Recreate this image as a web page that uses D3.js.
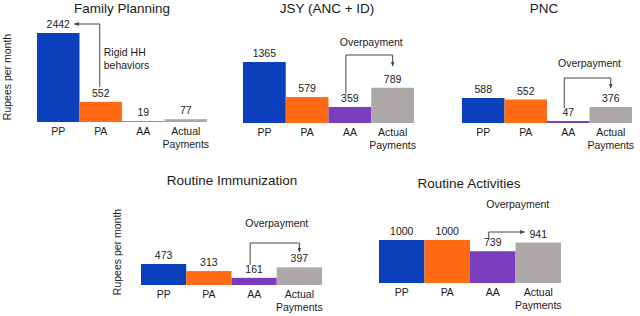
<!DOCTYPE html>
<html><head><meta charset="utf-8">
<script src="https://cdn.jsdelivr.net/npm/d3@7"></script>
<style>
html,body{margin:0;padding:0;background:#fff;}
svg{display:block;font-family:"Liberation Sans",Arial,Helvetica,sans-serif;}
</style></head>
<body><svg id="c" width="640" height="316"></svg>
<script>
// ---- data ----
const categories = ["PP", "PA", "AA", "Actual Payments"];
const familyPlanning = [2442, 552, 19, 77];
const jsy = [1365, 579, 359, 789];
const pnc = [588, 552, 47, 376];
const routineImmunization = [473, 313, 161, 397];
const routineActivities = [1000, 1000, 739, 941];
const titles = ["Family Planning", "JSY (ANC + ID)", "PNC", "Routine Immunization", "Routine Activities"];
const yAxisLabel = "Rupees per month";
const overpaymentText = "Overpayment";
const rigidText = ["Rigid HH", "behaviors"];

const colors = ["#0b3fbb", "#ff6a13", "#7a3dbd", "#aca8a8"];

// ---- layout ----
const panels = [
  {values: familyPlanning, title: titles[0], x0: 37, x1: 207, base: 122, h: 89, titleX: 122, titleY: 13, ylabX: 11, ylabY: 77, note: "rigid"},
  {values: jsy, title: titles[1], x0: 243, x1: 414, base: 123, h: 61, titleX: 327, titleY: 13, note: "over", lineY: 55, arrowEnd: 66, textY: 46},
  {values: pnc, title: titles[2], x0: 462, x1: 632, base: 123, h: 25, titleX: 544, titleY: 13, note: "over", lineY: 78, arrowEnd: 88, textY: 67},
  {values: routineImmunization, title: titles[3], x0: 141, x1: 322, base: 285, h: 21, titleX: 232, titleY: 185, ylabX: 121, ylabY: 252, note: "over", lineY: 243, arrowEnd: 252, textY: 227},
  {values: routineActivities, title: titles[4], x0: 379, x1: 561, base: 283, h: 43, titleX: 469, titleY: 188, note: "side", lineY: 232, textY: 208}
];

const svg = d3.select("#c");
const defs = svg.append("defs");
defs.append("marker").attr("id", "ah").attr("viewBox", "0 0 10 10")
  .attr("refX", 9).attr("refY", 5).attr("markerWidth", 5).attr("markerHeight", 5)
  .attr("orient", "auto-start-reverse")
  .append("path").attr("d", "M0,1 L10,5 L0,9 Z").attr("fill", "#444");

const txt = "#1a1a1a";

panels.forEach(p => {
  const g = svg.append("g");
  const x = d3.scaleBand().domain(categories).range([p.x0, p.x1]).padding(0);
  const maxV = d3.max(p.values);
  const y = d3.scaleLinear().domain([0, maxV]).range([p.base, p.base - p.h]);
  const data = categories.map((c, i) => ({c, v: p.values[i], i}));
  const bw = x.bandwidth();

  g.selectAll("rect").data(data).join("rect")
    .attr("x", d => x(d.c)).attr("width", bw)
    .attr("y", d => y(d.v)).attr("height", d => p.base - y(d.v))
    .attr("fill", d => colors[d.i]);

  // value labels
  g.selectAll("text.val").data(data).join("text").attr("class", "val")
    .attr("x", d => x(d.c) + bw / 2).attr("y", d => y(d.v) - 5)
    .attr("text-anchor", "middle").attr("font-size", 10.5).attr("fill", txt)
    .text(d => d.v);

  // category labels via axis
  const axis = d3.axisBottom(x).tickSize(0).tickPadding(6);
  const ag = g.append("g").attr("transform", `translate(0,${p.base})`).call(axis);
  ag.select(".domain").remove();
  ag.selectAll(".tick text").attr("font-size", 10.5).attr("fill", txt)
    .attr("font-family", "Liberation Sans, Arial, sans-serif")
    .each(function(d) {
      const t = d3.select(this);
      const words = d.split(" ");
      if (words.length > 1) {
        t.text(null);
        words.forEach((w, k) => t.append("tspan").attr("x", 0).attr("dy", k === 0 ? "0.71em" : "1.15em").text(w));
      }
    });

  // title
  g.append("text").attr("x", p.titleX).attr("y", p.titleY).attr("text-anchor", "middle")
    .attr("font-size", 13.5).attr("fill", txt).text(p.title);

  // y axis label
  if (p.ylabX !== undefined) {
    g.append("text").attr("transform", `translate(${p.ylabX},${p.ylabY}) rotate(-90)`)
      .attr("text-anchor", "middle").attr("font-size", 10.5).attr("fill", txt).text(yAxisLabel);
  }

  const cx = c => x(c) + bw / 2;
  const labelTop = v => y(v) - 14;
  const line = d3.line();
  if (p.note === "over") {
    const xa = cx("AA") - 4, xb = cx("Actual Payments");
    g.append("path").attr("d", line([[xa, labelTop(p.values[2]) + 1], [xa, p.lineY], [xb, p.lineY], [xb, p.arrowEnd]]))
      .attr("fill", "none").attr("stroke", "#444").attr("stroke-width", 1).attr("marker-end", "url(#ah)");
    g.append("text").attr("x", (xa + xb) / 2 + 2).attr("y", p.textY).attr("text-anchor", "middle")
      .attr("font-size", 10.5).attr("fill", txt).text(overpaymentText);
  } else if (p.note === "side") {
    const xa = cx("AA") - 4, xb = x("Actual Payments") + 9;
    g.append("path").attr("d", line([[xa, y(p.values[2]) - 13], [xa, p.lineY], [xb, p.lineY]]))
      .attr("fill", "none").attr("stroke", "#444").attr("stroke-width", 1).attr("marker-end", "url(#ah)");
    g.append("text").attr("x", cx("AA") + 25).attr("y", p.textY).attr("text-anchor", "middle")
      .attr("font-size", 10.5).attr("fill", txt).text(overpaymentText);
  } else if (p.note === "rigid") {
    const xa = cx("PA") - 1;
    const yTop = y(p.values[0]) - 9;
    g.append("path").attr("d", line([[xa, labelTop(p.values[1]) - 1], [xa, yTop], [cx("PP") + 16, yTop]]))
      .attr("fill", "none").attr("stroke", "#444").attr("stroke-width", 1).attr("marker-end", "url(#ah)");
    const t = g.append("text").attr("x", xa + 4).attr("y", 56).attr("font-size", 10.5).attr("fill", txt);
    rigidText.forEach((w, k) => t.append("tspan").attr("x", xa + 4).attr("dy", k === 0 ? 0 : 13).text(w));
  }
});
</script>
</body></html>
